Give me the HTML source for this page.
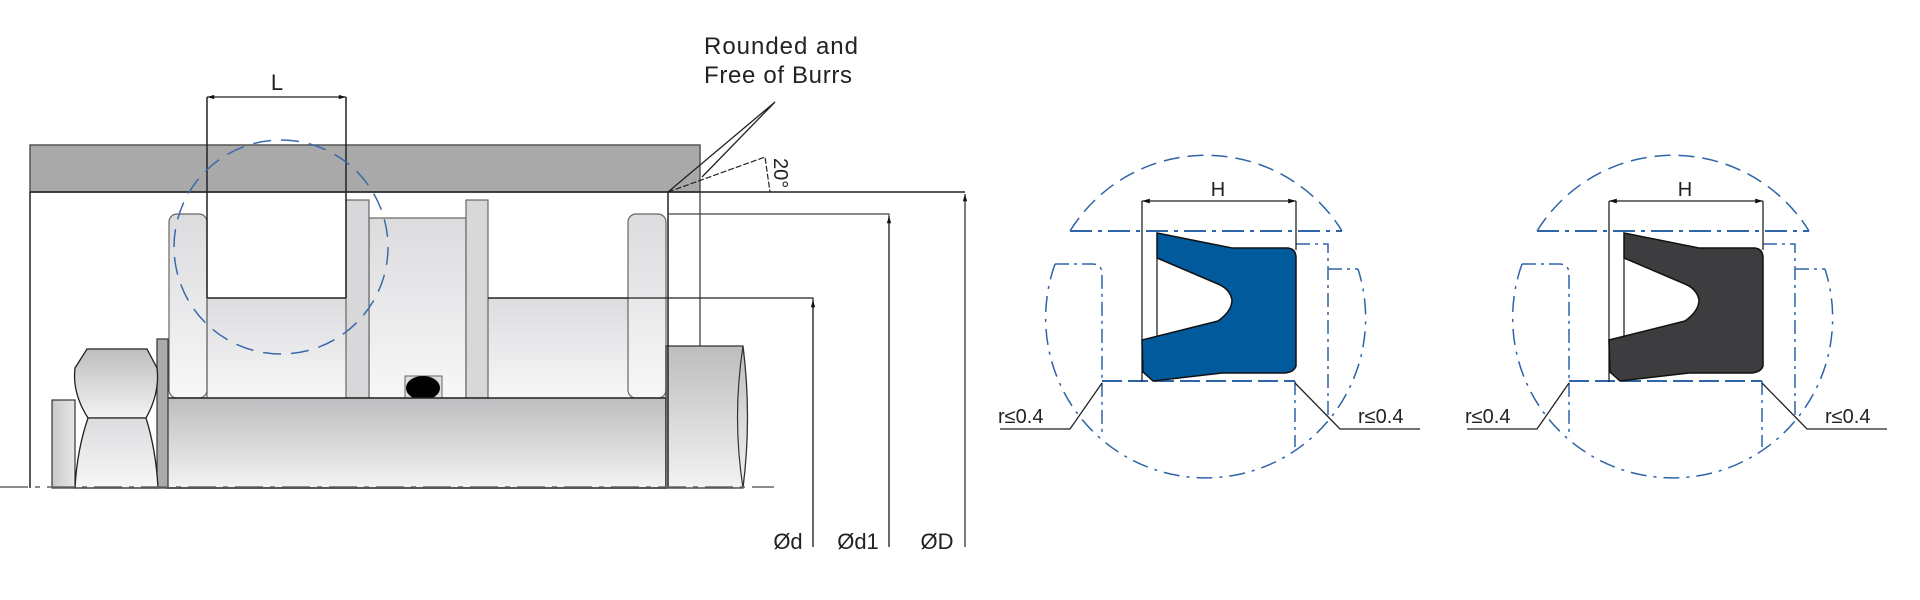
<!DOCTYPE html>
<html><head><meta charset="utf-8"><style>
html,body{margin:0;padding:0;background:#fff;width:1920px;height:600px;overflow:hidden}
svg{display:block}
text{font-family:"Liberation Sans",sans-serif;fill:#222}
</style></head><body>
<svg width="1920" height="600" viewBox="0 0 1920 600" xmlns="http://www.w3.org/2000/svg">
<defs>
<linearGradient id="g1" x1="0" y1="0" x2="0" y2="1"><stop offset="0" stop-color="#dcdcdf"/><stop offset="1" stop-color="#f7f7f8"/></linearGradient>
<linearGradient id="g2" x1="0" y1="0" x2="0" y2="1"><stop offset="0" stop-color="#bdbdbf"/><stop offset="1" stop-color="#f3f3f4"/></linearGradient>
<linearGradient id="g3" x1="0" y1="0" x2="1" y2="0"><stop offset="0" stop-color="#c8c8c8"/><stop offset="1" stop-color="#e8e8e8"/></linearGradient>
<marker id="ar" viewBox="0 0 10 10" refX="10" refY="5" markerWidth="8" markerHeight="6" orient="auto-start-reverse"><path d="M0,2 L10,5 L0,8z" fill="#111"/></marker>
</defs>

<!-- housing bar -->
<rect x="30" y="145" width="670" height="47" fill="#a9a9aa" stroke="#555" stroke-width="1.5"/>
<!-- piston body -->
<rect x="169" y="298" width="497" height="100" fill="url(#g1)" stroke="none"/>
<rect x="369" y="218" width="97" height="180" fill="url(#g1)" stroke="#666" stroke-width="1.2"/>
<rect x="346" y="200" width="23" height="198" fill="#d8d8da" stroke="#666" stroke-width="1.2"/>
<rect x="466" y="200" width="22" height="198" fill="#d8d8da" stroke="#666" stroke-width="1.2"/>
<rect x="169" y="214" width="38" height="184" rx="8" fill="url(#g1)" stroke="#666" stroke-width="1.2"/>
<rect x="628" y="214" width="38" height="184" rx="8" fill="url(#g1)" stroke="#666" stroke-width="1.2"/>
<line x1="488" y1="298" x2="628" y2="298" stroke="#222" stroke-width="1.5"/>
<line x1="207" y1="298" x2="346" y2="298" stroke="#222" stroke-width="1.5"/>
<line x1="207" y1="298" x2="207" y2="398" stroke="#666" stroke-width="1.2"/>
<!-- o-ring -->
<rect x="405" y="376" width="37" height="23" fill="#ddd" stroke="#666"/>
<ellipse cx="423" cy="388" rx="17" ry="12" fill="#000"/>
<!-- rod -->
<rect x="167" y="398" width="499" height="90" fill="url(#g2)" stroke="#222" stroke-width="1.5"/>
<!-- right cylinder -->
<path d="M666,346 H743 Q752,417 743,488 H666 Z" fill="url(#g2)" stroke="#333" stroke-width="1.3"/>
<path d="M743,346 Q732,417 743,488" fill="none" stroke="#333" stroke-width="1.2"/>
<!-- washer, plate, nut -->
<rect x="52" y="400" width="23" height="88" fill="url(#g3)" stroke="#333" stroke-width="1.2"/>
<rect x="157" y="339" width="11" height="149" fill="#aaa" stroke="#333" stroke-width="1.2"/>
<path d="M87,349 H147 L157,368 Q160,393 146,418 H88 Q72,393 75,368 Z" fill="url(#g2)" stroke="#222" stroke-width="1.3"/>
<path d="M88,418 H146 Q156,450 158,488 H75 Q77,450 88,418 Z" fill="url(#g1)" stroke="#222" stroke-width="1.3"/>
<!-- main lines -->
<line x1="30" y1="192" x2="30" y2="488" stroke="#222" stroke-width="1.5"/>
<line x1="30" y1="192" x2="965" y2="192" stroke="#222" stroke-width="1.5"/>
<line x1="668" y1="192" x2="668" y2="488" stroke="#222" stroke-width="1.5"/>
<line x1="700" y1="192" x2="700" y2="346" stroke="#333" stroke-width="1.2"/>
<line x1="207" y1="97" x2="207" y2="298" stroke="#222" stroke-width="1.5"/>
<line x1="346" y1="97" x2="346" y2="298" stroke="#222" stroke-width="1.5"/>
<line x1="207" y1="97" x2="346" y2="97" stroke="#222" stroke-width="1.2" marker-start="url(#ar)" marker-end="url(#ar)"/>
<text x="277" y="90" font-size="22" text-anchor="middle">L</text>
<!-- centerline -->
<line x1="0" y1="487" x2="774" y2="487" stroke="#666" stroke-width="1.5" stroke-dasharray="28,7,5,7"/>
<!-- blue circle -->
<circle cx="281" cy="247" r="107" fill="none" stroke="#3a6aa8" stroke-width="1.5" stroke-dasharray="18,10"/>
<!-- dimensions -->
<polyline points="628,298 813,298 813,547" fill="none" stroke="#222" stroke-width="1.2"/>
<line x1="813" y1="547" x2="813" y2="300" stroke="#222" stroke-width="1.2" marker-end="url(#ar)"/>
<polyline points="668,214 889,214 889,547" fill="none" stroke="#444" stroke-width="1.2"/>
<line x1="889" y1="547" x2="889" y2="216" stroke="#222" stroke-width="1.2" marker-end="url(#ar)"/>
<line x1="965" y1="547" x2="965" y2="194" stroke="#222" stroke-width="1.2" marker-end="url(#ar)"/>
<text x="788" y="549" font-size="22" text-anchor="middle">Ød</text>
<text x="858" y="549" font-size="22" text-anchor="middle">Ød1</text>
<text x="937" y="549" font-size="22" text-anchor="middle">ØD</text>
<!-- leader -->
<polyline points="668,192 775,102 702,177" fill="none" stroke="#222" stroke-width="1.3"/>
<polyline points="668,192 765,157 770,192" fill="none" stroke="#222" stroke-width="1.2" stroke-dasharray="6,2"/>
<text x="0" y="0" font-size="20" transform="translate(774,158) rotate(90)">20°</text>
<text x="704" y="54" font-size="24" textLength="154">Rounded and</text>
<text x="704" y="83" font-size="24" textLength="148">Free of Burrs</text>

<!-- details -->
<g>
<path d="M1070,231 A160,160 0 0 1 1342,231" fill="none" stroke="#2e64a8" stroke-width="1.5" stroke-dasharray="16,8"/>
<line x1="1070" y1="231" x2="1342" y2="231" stroke="#2e64a8" stroke-width="2" stroke-dasharray="22,6,4,6"/>
<path d="M1055,264 A160,160 0 1 0 1358,269" fill="none" stroke="#2e64a8" stroke-width="1.5" stroke-dasharray="16,7,3,7"/>
<path d="M1055,264 H1092 Q1102,264 1102,274 V437" fill="none" stroke="#2e64a8" stroke-width="1.5" stroke-dasharray="14,5,3,5"/>
<path d="M1296,244 H1328 V417 M1328,269 H1358" fill="none" stroke="#2e64a8" stroke-width="1.5" stroke-dasharray="14,5,3,5"/>
<line x1="1295" y1="381" x2="1295" y2="447" stroke="#2e64a8" stroke-width="1.5" stroke-dasharray="14,5,3,5"/>
<line x1="1102" y1="381" x2="1295" y2="381" stroke="#2e64a8" stroke-width="2" stroke-dasharray="20,6"/>
<line x1="1142" y1="201" x2="1142" y2="382" stroke="#222" stroke-width="1.3"/>
<line x1="1296" y1="201" x2="1296" y2="250" stroke="#222" stroke-width="1.3"/>
<line x1="1157" y1="258" x2="1157" y2="336" stroke="#222" stroke-width="1.3"/>
<line x1="1142" y1="201" x2="1296" y2="201" stroke="#222" stroke-width="1.3" marker-start="url(#ar)" marker-end="url(#ar)"/>
<text x="1218" y="196" font-size="20" text-anchor="middle">H</text>
<path d="M1157,233 L1232,248 L1288,248 Q1296,249 1296,258 L1296,366 Q1294,372 1285,373 L1222,373 L1153,381 L1143,372 L1142,340 L1218,321 Q1232,311 1232,300 Q1230,289 1218,284 L1157,258 Z" fill="#005a9c" stroke="#111" stroke-width="1.5"/>
<polyline points="1102,383 1070,429 1000,429" fill="none" stroke="#222" stroke-width="1.3"/>
<polyline points="1295,383 1340,429 1420,429" fill="none" stroke="#222" stroke-width="1.3"/>
<text x="998" y="423" font-size="20">r≤0.4</text>
<text x="1358" y="423" font-size="20">r≤0.4</text>
</g>
<g transform="translate(467,0)">
<path d="M1070,231 A160,160 0 0 1 1342,231" fill="none" stroke="#2e64a8" stroke-width="1.5" stroke-dasharray="16,8"/>
<line x1="1070" y1="231" x2="1342" y2="231" stroke="#2e64a8" stroke-width="2" stroke-dasharray="22,6,4,6"/>
<path d="M1055,264 A160,160 0 1 0 1358,269" fill="none" stroke="#2e64a8" stroke-width="1.5" stroke-dasharray="16,7,3,7"/>
<path d="M1055,264 H1092 Q1102,264 1102,274 V437" fill="none" stroke="#2e64a8" stroke-width="1.5" stroke-dasharray="14,5,3,5"/>
<path d="M1296,244 H1328 V417 M1328,269 H1358" fill="none" stroke="#2e64a8" stroke-width="1.5" stroke-dasharray="14,5,3,5"/>
<line x1="1295" y1="381" x2="1295" y2="447" stroke="#2e64a8" stroke-width="1.5" stroke-dasharray="14,5,3,5"/>
<line x1="1102" y1="381" x2="1295" y2="381" stroke="#2e64a8" stroke-width="2" stroke-dasharray="20,6"/>
<line x1="1142" y1="201" x2="1142" y2="382" stroke="#222" stroke-width="1.3"/>
<line x1="1296" y1="201" x2="1296" y2="250" stroke="#222" stroke-width="1.3"/>
<line x1="1157" y1="258" x2="1157" y2="336" stroke="#222" stroke-width="1.3"/>
<line x1="1142" y1="201" x2="1296" y2="201" stroke="#222" stroke-width="1.3" marker-start="url(#ar)" marker-end="url(#ar)"/>
<text x="1218" y="196" font-size="20" text-anchor="middle">H</text>
<path d="M1157,233 L1232,248 L1288,248 Q1296,249 1296,258 L1296,366 Q1294,372 1285,373 L1222,373 L1153,381 L1143,372 L1142,340 L1218,321 Q1232,311 1232,300 Q1230,289 1218,284 L1157,258 Z" fill="#3d3d3f" stroke="#111" stroke-width="1.5"/>
<polyline points="1102,383 1070,429 1000,429" fill="none" stroke="#222" stroke-width="1.3"/>
<polyline points="1295,383 1340,429 1420,429" fill="none" stroke="#222" stroke-width="1.3"/>
<text x="998" y="423" font-size="20">r≤0.4</text>
<text x="1358" y="423" font-size="20">r≤0.4</text>
</g>
</svg>
</body></html>
